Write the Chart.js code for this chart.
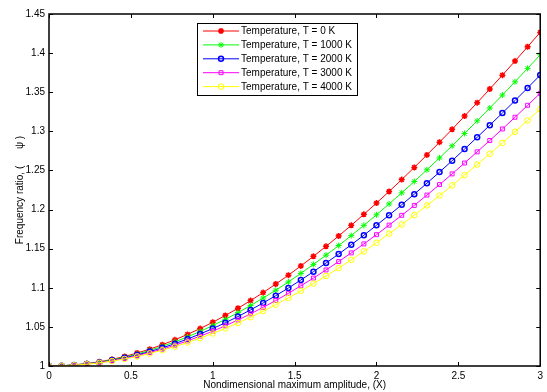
<!DOCTYPE html>
<html>
<head>
<meta charset="utf-8">
<script src="https://cdn.jsdelivr.net/npm/chart.js@4.4.0/dist/chart.umd.min.js"></script>
<style>
  html, body { margin: 0; padding: 0; background: #fff; }
  #chart { display: block; }
</style>
</head>
<body>
<canvas id="chart" width="547" height="392"></canvas>
<script>
// amplitude values (X)
const amplitude = [0, 0.077, 0.154, 0.231, 0.308, 0.385, 0.462, 0.538, 0.615, 0.692,
  0.769, 0.846, 0.923, 1.0, 1.077, 1.154, 1.231, 1.308, 1.385, 1.462,
  1.538, 1.615, 1.692, 1.769, 1.846, 1.923, 2.0, 2.077, 2.154, 2.231,
  2.308, 2.385, 2.462, 2.538, 2.615, 2.692, 2.769, 2.846, 2.923, 3.0]

const seriesLabels = ['Temperature, T = 0 K', 'Temperature, T = 1000 K', 'Temperature, T = 2000 K',
  'Temperature, T = 3000 K', 'Temperature, T = 4000 K']

const temp0 = [1.0000, 1.0003, 1.0014, 1.0031, 1.0054, 1.0085, 1.0122, 1.0166, 1.0215, 1.0272,
  1.0335, 1.0404, 1.0479, 1.0559, 1.0646, 1.0738, 1.0836, 1.0939, 1.1048, 1.1161,
  1.1279, 1.1402, 1.1530, 1.1662, 1.1798, 1.1939, 1.2083, 1.2231, 1.2383, 1.2539,
  1.2698, 1.2861, 1.3026, 1.3195, 1.3366, 1.3541, 1.3718, 1.3898, 1.4081, 1.4265]

const temp1000 = [1.0000, 1.0003, 1.0013, 1.0028, 1.0050, 1.0078, 1.0112, 1.0153, 1.0199, 1.0251,
  1.0309, 1.0372, 1.0442, 1.0517, 1.0597, 1.0682, 1.0773, 1.0869, 1.0969, 1.1074,
  1.1184, 1.1299, 1.1417, 1.1540, 1.1667, 1.1798, 1.1933, 1.2072, 1.2214, 1.2359,
  1.2508, 1.2660, 1.2815, 1.2973, 1.3134, 1.3298, 1.3464, 1.3633, 1.3805, 1.3979]

const temp2000 = [1.0000, 1.0003, 1.0012, 1.0026, 1.0046, 1.0072, 1.0104, 1.0141, 1.0184, 1.0232,
  1.0286, 1.0345, 1.0409, 1.0479, 1.0553, 1.0632, 1.0717, 1.0806, 1.0899, 1.0997,
  1.1099, 1.1206, 1.1317, 1.1431, 1.1550, 1.1672, 1.1799, 1.1928, 1.2061, 1.2197,
  1.2337, 1.2479, 1.2624, 1.2773, 1.2924, 1.3078, 1.3234, 1.3393, 1.3555, 1.3719]

const temp3000 = [1.0000, 1.0003, 1.0011, 1.0024, 1.0043, 1.0067, 1.0096, 1.0131, 1.0171, 1.0216,
  1.0266, 1.0321, 1.0381, 1.0445, 1.0514, 1.0588, 1.0667, 1.0750, 1.0837, 1.0929,
  1.1025, 1.1124, 1.1228, 1.1335, 1.1446, 1.1561, 1.1679, 1.1801, 1.1926, 1.2053,
  1.2185, 1.2319, 1.2456, 1.2595, 1.2738, 1.2883, 1.3030, 1.3180, 1.3333, 1.3487]

const temp4000 = [1.0000, 1.0003, 1.0010, 1.0023, 1.0040, 1.0063, 1.0090, 1.0122, 1.0160, 1.0202,
  1.0248, 1.0300, 1.0356, 1.0416, 1.0481, 1.0551, 1.0624, 1.0702, 1.0784, 1.0870,
  1.0960, 1.1054, 1.1151, 1.1252, 1.1357, 1.1465, 1.1576, 1.1692, 1.1808, 1.1929,
  1.2053, 1.2179, 1.2309, 1.2441, 1.2575, 1.2713, 1.2852, 1.2995, 1.3139, 1.3285]

const xTicks = [0, 0.5, 1, 1.5, 2, 2.5, 3]
const yTicks = [1, 1.05, 1.1, 1.15, 1.2, 1.25, 1.3, 1.35, 1.4, 1.45]

const FONT = 'Liberation Sans, Arial, Helvetica, sans-serif'

const styles = [
  { color: '#ff0000', point: 'star', radius: 3, width: 1.5 },
  { color: '#00ff00', point: 'star', radius: 3, width: 1 },
  { color: '#0000ff', point: 'circle', radius: 2.5, width: 1.5 },
  { color: '#ff00ff', point: 'rect', radius: 2.8, width: 1 },
  { color: '#ffff00', point: 'circle', radius: 2.8, width: 1 },
]

function makeDataset(label, values, i) {
  const s = styles[i]
  return {
    label: label,
    data: values.map((v, k) => ({ x: amplitude[k], y: v })),
    borderColor: s.color,
    backgroundColor: s.color,
    borderWidth: 1,
    pointStyle: s.point,
    pointRadius: s.radius,
    pointBorderWidth: s.width,
    pointBackgroundColor: 'rgba(0,0,0,0)',
    pointBorderColor: s.color,
    tension: 0,
    order: 4 - i,
  }
}

const datasets = [temp0, temp1000, temp2000, temp3000, temp4000].map((vals, i) =>
  makeDataset(seriesLabels[i], vals, i))

// box frame with inward ticks, like the original figure
const framePlugin = {
  id: 'frame',
  afterDatasetsDraw(chart) {
    const { ctx, chartArea: a, scales } = chart
    ctx.save()
    ctx.strokeStyle = '#000'
    ctx.lineWidth = 1
    ctx.beginPath()
    xTicks.forEach((t) => {
      const px = Math.round(scales.x.getPixelForValue(t)) + 0.5
      ctx.moveTo(px, a.bottom); ctx.lineTo(px, a.bottom - 4)
      ctx.moveTo(px, a.top); ctx.lineTo(px, a.top + 4)
    })
    yTicks.forEach((t) => {
      const py = Math.round(scales.y.getPixelForValue(t)) + 0.5
      ctx.moveTo(a.left, py); ctx.lineTo(a.left + 4, py)
      ctx.moveTo(a.right, py); ctx.lineTo(a.right - 4, py)
    })
    ctx.stroke()
    ctx.lineWidth = 1.5
    ctx.strokeRect(a.left, a.top, a.right - a.left, a.bottom - a.top)
    ctx.restore()
  },
}

// legend box inside the plot (top middle)
const legendPlugin = {
  id: 'boxLegend',
  afterDraw(chart) {
    const ctx = chart.ctx
    const bx = 197, by = 23, bw = 160, bh = 72, row = 13.9
    ctx.save()
    ctx.fillStyle = '#fff'
    ctx.fillRect(bx, by, bw, bh)
    ctx.strokeStyle = '#000'
    ctx.lineWidth = 1
    ctx.strokeRect(bx + 0.5, by + 0.5, bw, bh)
    ctx.font = '10px ' + FONT
    ctx.textBaseline = 'middle'
    chart.data.datasets.forEach((ds, i) => {
      const y = by + 8 + i * row
      ctx.strokeStyle = ds.borderColor
      ctx.lineWidth = 1
      ctx.beginPath()
      ctx.moveTo(203, y); ctx.lineTo(239, y)
      ctx.stroke()
      ctx.lineWidth = ds.pointBorderWidth
      ctx.fillStyle = 'rgba(0,0,0,0)'
      Chart.helpers.drawPoint(ctx, {
        pointStyle: ds.pointStyle, radius: ds.pointRadius, rotation: 0, borderWidth: ds.pointBorderWidth,
      }, 221, y)
      ctx.fillStyle = '#000'
      ctx.fillText(ds.label, 241, y + 0.5)
    })
    ctx.restore()
  },
}

const tickLabel = (v) => String(Math.round(v * 100) / 100)

new Chart(document.getElementById('chart').getContext('2d'), {
  type: 'line',
  data: { datasets: datasets },
  options: {
    responsive: false,
    animation: false,
    layout: { padding: { top: 14, right: 2, left: 0, bottom: 0 } },
    plugins: {
      legend: { display: false },
      tooltip: { enabled: false },
    },
    scales: {
      x: {
        type: 'linear',
        min: 0,
        max: 3,
        afterFit: (s) => { s.height = 26 },
        afterBuildTicks: (s) => { s.ticks = xTicks.map((v) => ({ value: v })) },
        grid: { display: false, drawTicks: false },
        border: { display: false },
        ticks: { color: '#000', padding: 4, maxRotation: 0, callback: tickLabel, font: { family: FONT, size: 10 } },
        title: {
          display: true,
          text: 'Nondimensional maximum amplitude, (X)',
          color: '#000',
          padding: { top: 0, bottom: 1 },
          font: { family: FONT, size: 10 },
        },
      },
      y: {
        type: 'linear',
        min: 1,
        max: 1.45,
        afterFit: (s) => { s.width = 49 },
        afterBuildTicks: (s) => { s.ticks = yTicks.map((v) => ({ value: v })) },
        grid: { display: false, drawTicks: false },
        border: { display: false },
        ticks: { color: '#000', padding: 4, callback: tickLabel, font: { family: FONT, size: 10 } },
        title: {
          display: true,
          text: 'Frequency ratio, (      ψ )',
          color: '#000',
          padding: { top: 14, bottom: 0 },
          font: { family: FONT, size: 10 },
        },
      },
    },
  },
  plugins: [framePlugin, legendPlugin],
})
</script>
</body>
</html>
